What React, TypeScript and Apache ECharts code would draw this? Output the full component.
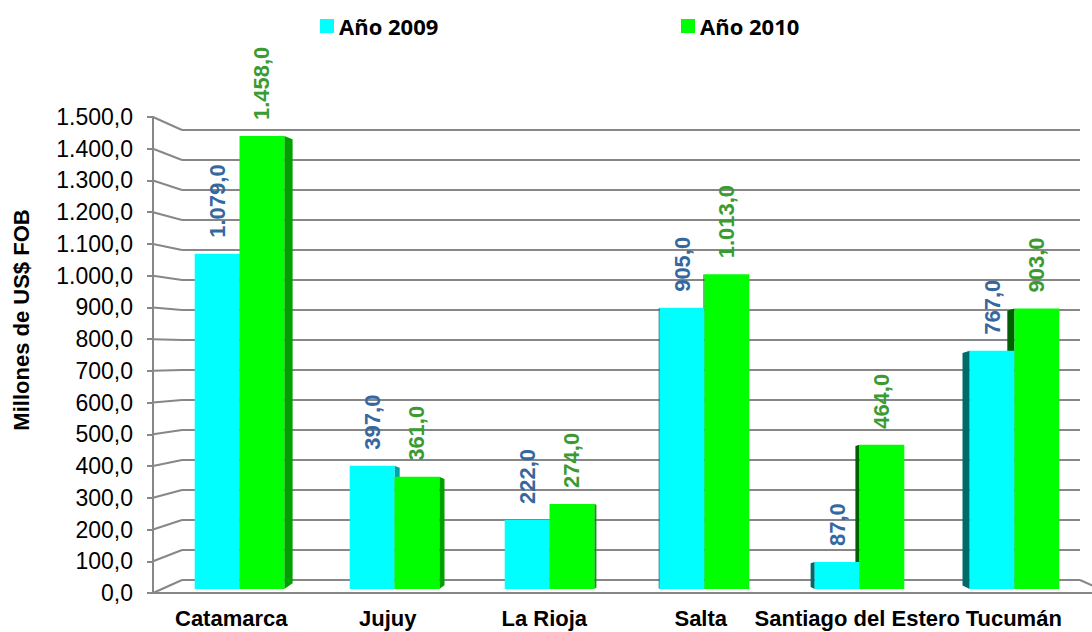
import React, { useEffect, useRef } from "react";
import * as echarts from "echarts";

const CATEGORIES = ["Catamarca", "Jujuy", "La Rioja", "Salta", "Santiago del Estero", "Tucumán"];
const SERIES_NAMES = ["Año 2009", "Año 2010"];
const VALUES_2009 = [1079, 397, 222, 905, 87, 767];
const VALUES_2010 = [1458, 361, 274, 1013, 464, 903];
const Y_MIN = 0;
const Y_MAX = 1500;
const Y_STEP = 100;
const Y_TITLE = "Millones de US$ FOB";

const FRONT_COLORS = ["#00FFFF", "#00FF00"];
const RIGHT_SIDE_COLORS = ["#00A3A8", "#00A000"];
const LEFT_SIDE_COLORS = ["#006B6B", "#006000"];
const LABEL_COLORS = ["#35689F", "#3B9B32"];
const GRAY = "#878787";
const FONT = "'Liberation Sans', Arial, sans-serif";

const G_FRONT = { left: 153, top: 117, width: 946, height: 476 };
const G_BARS = { left: 162, top: 123, width: 936, height: 466 };
const G_BACK = { left: 182, top: 130, width: 898, height: 450 };
const VP_X = 655;

function fmt(v: number): string {
  const [i, d] = Number(v).toFixed(1).split(".");
  return i.replace(/\B(?=(\d{3})+(?!\d))/g, ".") + "," + d;
}

function makeRender(k: number) {
  return (params: any, api: any) => {
    const cat = api.value(0);
    const v = api.value(1);
    const base = api.coord([cat, 0]);
    const tp = api.coord([cat, v]);
    const band = api.size([1, 0])[0];
    const bw = band * 0.289;
    const xl = k === 0 ? base[0] - bw : base[0];
    const xr = xl + bw;
    const top = tp[1];
    const bottom = base[1];
    const d = (VP_X - base[0]) / 50;
    const children: any[] = [];
    if (d > 0.5) {
      children.push({
        type: "polygon",
        z2: 1,
        shape: { points: [[xr, top], [xr + d, top + d * 0.4], [xr + d, bottom - d * 0.7], [xr, bottom]] },
        style: { fill: RIGHT_SIDE_COLORS[k] },
      });
    } else if (d < -0.5) {
      const a = -d;
      children.push({
        type: "polygon",
        z2: 1,
        shape: { points: [[xl, top], [xl - a, top + a * 0.3], [xl - a, bottom - a * 0.5], [xl, bottom]] },
        style: { fill: LEFT_SIDE_COLORS[k] },
      });
    }
    children.push({
      type: "rect",
      z2: 5,
      shape: { x: xl, y: top, width: bw, height: bottom - top },
      style: { fill: FRONT_COLORS[k] },
    });
    children.push({
      type: "text",
      z2: 10,
      x: xl + bw / 2,
      y: top - 16,
      rotation: Math.PI / 2,
      style: {
        text: fmt(v),
        fill: LABEL_COLORS[k],
        fontSize: 22,
        fontWeight: "bold",
        fontFamily: FONT,
        align: "left",
        verticalAlign: "middle",
      },
    });
    return { type: "group", children };
  };
}

export default function App() {
  const ref = useRef<HTMLDivElement>(null);
  useEffect(() => {
    if (!ref.current) return;
    const chart = echarts.init(ref.current, null, { renderer: "svg" });
    const legendBase = {
      top: 15,
      padding: 0,
      icon: "rect",
      itemWidth: 14,
      itemHeight: 14,
      selectedMode: false,
      textStyle: { fontSize: 22, fontWeight: "bold", fontFamily: "'Open Sans', sans-serif", color: "#000" },
    };
    const option: any = {
      animation: false,
      backgroundColor: "#FFFFFF",
      legend: [
        { ...legendBase, data: [SERIES_NAMES[0]], left: 320 },
        { ...legendBase, data: [SERIES_NAMES[1]], left: 681 },
      ],
      grid: [G_FRONT, G_BARS, G_BACK].map((g) => ({ ...g, containLabel: false })),
      xAxis: [
        {
          gridIndex: 0,
          type: "category",
          data: CATEGORIES,
          axisLine: { show: true, lineStyle: { color: GRAY, width: 2 } },
          axisTick: { show: false },
          splitLine: { show: false },
          axisLabel: { interval: 0, margin: 14, fontSize: 22, fontWeight: "bold", color: "#000", fontFamily: FONT },
        },
        { gridIndex: 1, type: "category", data: CATEGORIES, show: false },
        { gridIndex: 2, type: "category", data: CATEGORIES, show: false },
      ],
      yAxis: [
        {
          gridIndex: 0,
          type: "value",
          min: Y_MIN,
          max: Y_MAX,
          interval: Y_STEP,
          axisLine: { show: true, lineStyle: { color: GRAY, width: 2 } },
          axisTick: { show: true, length: 6, lineStyle: { color: GRAY, width: 2 } },
          splitLine: { show: false },
          axisLabel: { formatter: (v: number) => fmt(v), fontSize: 23, color: "#000", margin: 20, fontFamily: FONT },
        },
        { gridIndex: 1, type: "value", min: Y_MIN, max: Y_MAX, interval: Y_STEP, show: false },
        {
          gridIndex: 2,
          type: "value",
          min: Y_MIN,
          max: Y_MAX,
          interval: Y_STEP,
          axisLine: { show: false },
          axisTick: { show: false },
          axisLabel: { show: false },
          splitLine: { show: true, lineStyle: { color: GRAY, width: 2 } },
        },
      ],
      series: [VALUES_2009, VALUES_2010].map((vals, k) => ({
        type: "custom",
        name: SERIES_NAMES[k],
        xAxisIndex: 1,
        yAxisIndex: 1,
        itemStyle: { color: FRONT_COLORS[k] },
        encode: { x: 0, y: 1 },
        data: vals.map((v, i) => [i, v]),
        renderItem: makeRender(k),
      })),
    };
    chart.setOption(option);

    const ticks: number[] = [];
    for (let v = Y_MIN; v <= Y_MAX; v += Y_STEP) ticks.push(v);
    const lines: any[] = ticks.map((v) => {
      const fy = chart.convertToPixel({ yAxisIndex: 0 } as any, v) as number;
      const by = chart.convertToPixel({ yAxisIndex: 2 } as any, v) as number;
      return {
        type: "line",
        shape: { x1: G_FRONT.left, y1: fy, x2: G_BACK.left, y2: by },
        style: { stroke: GRAY, lineWidth: 2 },
      };
    });
    const f0 = chart.convertToPixel({ yAxisIndex: 0 } as any, Y_MIN) as number;
    const b0 = chart.convertToPixel({ yAxisIndex: 2 } as any, Y_MIN) as number;
    const bx = G_BACK.left + G_BACK.width;
    lines.push({
      type: "line",
      shape: { x1: bx, y1: b0, x2: bx + (G_BACK.left - G_FRONT.left), y2: f0 },
      style: { stroke: GRAY, lineWidth: 2 },
    });
    lines.push({
      type: "text",
      x: 21,
      y: 320,
      rotation: Math.PI / 2,
      style: {
        text: Y_TITLE,
        fill: "#000",
        fontSize: 22,
        fontWeight: "bold",
        fontFamily: FONT,
        align: "center",
        verticalAlign: "middle",
      },
    });
    chart.setOption({ graphic: lines });

    return () => chart.dispose();
  }, []);
  return (
    <div
      ref={ref}
      style={{ position: "absolute", left: 0, top: 0, width: 1092, height: 632, background: "#fff" }}
    />
  );
}
